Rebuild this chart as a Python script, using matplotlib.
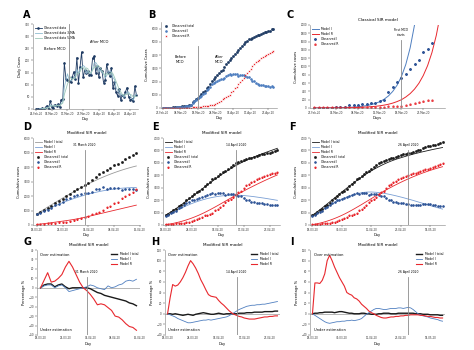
import numpy as np
import pandas as pd
import matplotlib
matplotlib.use('Agg')
import matplotlib.pyplot as plt

# Observed data (Malaysia), daily new cases 26 Feb - 30 Apr 2020
daily_cases = [0, 1, 2, 0,
               4, 0, 7, 14, 0, 33, 10, 6, 18, 12, 20, 9, 39, 41, 190, 125, 120, 117, 110, 130,
               153, 123, 212, 106, 172, 235, 130, 159, 150, 156, 140,
               142, 208, 217, 150, 179, 131, 170, 156, 109, 118, 184, 153, 134, 170, 85,
               110, 69, 54, 84, 36, 57, 50, 71, 88, 51, 38, 40, 31, 94, 57]

# Cumulative counts 27 Feb - 10 May 2020
obs_total = [23, 25, 25,
             29, 29, 36, 50, 50, 83, 93, 99, 117, 129, 149, 158, 197, 238, 428, 553, 673, 790, 900, 1030,
             1183, 1306, 1518, 1624, 1796, 2031, 2161, 2320, 2470, 2626, 2766,
             2908, 3116, 3333, 3483, 3662, 3793, 3963, 4119, 4228, 4346, 4530, 4683, 4817, 4987, 5072,
             5182, 5251, 5305, 5389, 5425, 5482, 5532, 5603, 5691, 5742, 5780, 5820, 5851, 5945, 6002,
             6071, 6176, 6298, 6353, 6383, 6428, 6467, 6535, 6589, 6656]
obs_rec = [18, 20, 22,
           22, 22, 22, 22, 22, 22, 24, 24, 24, 26, 26, 27, 27, 35, 42, 42, 49, 60, 75, 87,
           114, 139, 159, 183, 199, 215, 259, 320, 388, 479, 537,
           645, 767, 827, 915, 1005, 1241, 1321, 1487, 1608, 1830, 1995, 2108, 2276, 2478, 2647,
           2766, 2967, 3197, 3295, 3452, 3542, 3663, 3762, 3862, 3957, 4032, 4087, 4171, 4213, 4298,
           4326, 4413, 4484, 4534, 4590, 4702, 4776, 4864, 4929, 5025]
obs_death = [0] * 19 + [2, 2, 2, 3, 4, 10, 14, 16, 19, 23, 26, 27, 35, 37, 43,
                        45, 50, 53, 57, 61, 62, 63, 65, 67, 70, 73, 76, 77, 82, 83,
                        84, 86, 88, 88, 89, 92, 93, 95, 96, 98, 98, 99, 100, 100, 103,
                        103, 103, 105, 105, 106, 106, 107, 107, 108, 108]

# Classical SIR model (27 Feb onwards)
c_model_i = [1, 2, 2, 3, 4, 6, 8, 11, 16, 22, 30, 42, 58, 80, 110, 152, 210, 290, 400, 550,
             760, 1050, 1450, 2000, 2760]
c_model_r = [1, 1, 2, 2, 3, 3, 4, 5, 7, 9, 14, 18, 24, 31, 40, 53, 69, 90, 118, 155,
             200, 265, 347, 455, 595, 780, 1020, 1335, 1750, 2290]

# Modified SIR model, fit to 31 March (18 Mar - 14 Apr)
d_model_total = [760, 920, 1080, 1240, 1395, 1550, 1700, 1850, 2000, 2145, 2290, 2430, 2570, 2705,
                 2835, 2960, 3080, 3195, 3305, 3410, 3510, 3605, 3695, 3780, 3860, 3935, 4005, 4070]
d_model_i = [700, 830, 960, 1085, 1205, 1320, 1430, 1535, 1635, 1730, 1820, 1905, 1985, 2060,
             2130, 2195, 2255, 2310, 2360, 2405, 2445, 2480, 2510, 2535, 2555, 2570, 2580, 2585]
d_model_r = [40, 65, 95, 125, 160, 195, 230, 265, 300, 340, 380, 425, 475, 530,
             590, 650, 710, 770, 830, 890, 950, 1010, 1070, 1130, 1190, 1250, 1310, 1370]

# Modified SIR model, fit to 14 April (18 Mar - 30 Apr)
e_model_total = [790, 920, 1050, 1185, 1325, 1470, 1620, 1775, 1935, 2095, 2255, 2415, 2575, 2735,
                 2895, 3055, 3215, 3370, 3525, 3680, 3830, 3980, 4125, 4265, 4400, 4530, 4655, 4775,
                 4890, 5000, 5105, 5205, 5300, 5390, 5475, 5560, 5640, 5720, 5800, 5875, 5950, 6025,
                 6100, 6170]
e_model_i = [700, 810, 920, 1030, 1140, 1245, 1350, 1450, 1545, 1635, 1720, 1800, 1875, 1945,
             2010, 2070, 2125, 2175, 2220, 2260, 2295, 2325, 2350, 2370, 2385, 2395, 2400, 2400,
             2395, 2385, 2370, 2350, 2330, 2305, 2280, 2250, 2220, 2190, 2160, 2125, 2090, 2055,
             2020, 1985]
e_model_r = [30, 60, 95, 135, 180, 230, 285, 345, 410, 480, 555, 635, 720, 810,
             905, 1005, 1110, 1220, 1330, 1445, 1560, 1680, 1800, 1920, 2040, 2160, 2275, 2390,
             2505, 2620, 2730, 2840, 2950, 3055, 3160, 3265, 3365, 3465, 3565, 3660, 3755, 3850,
             3940, 4030]

# Modified SIR model, fit to 26 April (18 Mar - 10 May)
f_model_total = [790, 930, 1075, 1225, 1380, 1535, 1695, 1855, 2015, 2175, 2335, 2495, 2655, 2815,
                 2970, 3125, 3275, 3425, 3570, 3710, 3850, 3985, 4115, 4240, 4360, 4475, 4585, 4690,
                 4790, 4885, 4975, 5060, 5140, 5215, 5285, 5350, 5410, 5470, 5530, 5590, 5645, 5700,
                 5750, 5800, 5850, 5895, 5940, 5985, 6030, 6075, 6115, 6155, 6195, 6235]
f_model_i = [700, 830, 960, 1090, 1215, 1340, 1460, 1575, 1685, 1790, 1890, 1985, 2075, 2160,
             2240, 2315, 2385, 2450, 2505, 2555, 2595, 2625, 2645, 2655, 2655, 2645, 2630, 2610,
             2585, 2555, 2520, 2480, 2440, 2395, 2350, 2300, 2250, 2200, 2145, 2090, 2035, 1980,
             1920, 1860, 1800, 1740, 1680, 1620, 1560, 1500, 1445, 1390, 1335, 1280]
f_model_r = [30, 65, 105, 150, 200, 255, 315, 380, 450, 525, 605, 690, 780, 875,
             975, 1080, 1190, 1300, 1415, 1530, 1645, 1765, 1885, 2005, 2125, 2245, 2365, 2480,
             2595, 2710, 2820, 2930, 3035, 3140, 3240, 3340, 3435, 3530, 3620, 3710, 3795, 3880,
             3960, 4040, 4115, 4190, 4260, 4330, 4395, 4460, 4520, 4580, 4635, 4690]

# Percentage error (%) of the modified models
g_total = [0, 3, 4, 4, 1, 3, 4, 1, -1, 0, 0, 0, 0, 0, -1, -3, -5, -6, -8, -9, -10, -11, -12, -13,
           -14, -16, -17, -19]
g_i = [0, 2, 3, 3, 0, 2, 3, 0, -4, -3, -2, -1, 0, 1, 3, 2, 0, -1, -2, 2, 0, 1, 3, 4, 7, 8, 7, 9]
g_r = [0, 8, 16, 6, 7, 10, 14, 22, 28, 22, 14, 6, 0, -3, -7, -12, -18, -17, -18, -21, -24, -30,
       -31, -34, -38, -41, -42, -45]
h_total = [0, 0, -1, 0, -1, -2, -3, -2, -1, -2, -3, -1, 0, 1, 2, 1, 0, -1, -1, 0, 1, 0, -1, 0,
           0, 0, 0, 0, 1, 1, 1, 2, 2, 2, 3, 3, 3, 3, 4, 4, 4, 4, 5, 5]
h_i = [0, -2, -4, -6, -9, -11, -13, -15, -17, -17, -16, -15, -14, -13, -12, -12, -11, -12, -11,
       -10, -9, -8, -7, -6, -4, -1, 2, 5, 8, 10, 12, 14, 15, 16, 16, 17, 17, 18, 18, 19, 20, 21,
       22, 23]
h_r = [0, 30, 55, 52, 54, 60, 68, 78, 90, 100, 94, 86, 76, 64, 55, 45, 36, 33, 32, 31, 25, 20,
       16, 11, 6, 2, -1, -3, -5, -6, -8, -9, -10, -10, -10, -9, -8, -7, -6, -6, -5, -5, -4, -4]
i_total = [0, 1, 1, 2, 2, 3, 3, 3, 3, 2, 3, 4, 4, 3, 2, 1, 1, 0, 0, 0, 1, 1, 0, 0, -1, -1, -1,
           0, 0, 1, 1, 1, 0, 0, 0, 1, 1, 1, 1, 1, 1, 1, 0, 0, 0, -1, -1, -1, -2, -2, -2, -2, -3, -3]
i_i = [0, -3, -6, -9, -12, -15, -17, -18, -17, -16, -15, -15, -14, -14, -13, -13, -12, -13, -12,
       -11, -9, -5, -1, 2, 5, 8, 10, 10, 9, 8, 8, 9, 10, 10, 10, 11, 11, 10, 11, 12, 11, 8, 4, 0,
       -2, -4, -5, -6, -8, -9, -10, -11, -13, -14]
i_r = [0, 58, 58, 57, 63, 75, 100, 110, 100, 88, 78, 68, 60, 52, 40, 37, 35, 30, 28, 24, 18, 14,
       10, 5, 2, 0, -3, -5, -7, -8, -8, -7, -6, -6, -5, -5, -4, -4, -3, -3, -2, -2, -2, -2, -3,
       -3, -4, -5, -5, -6, -7, -7, -8, -8]

# Colours
navy = '#1f3b63'
blue = '#4f7fc0'
red = '#e8282e'
black = '#1a1a1a'
vcol = '#8c8c8c'

days_a = pd.date_range('2020-02-26', periods=len(daily_cases))
days = pd.date_range('2020-02-27', periods=len(obs_total))
total = np.array(obs_total)
rec = np.array(obs_rec)
active = total - rec - np.array(obs_death)

fig = plt.figure(figsize=(4.74, 3.5), dpi=100)


def box(l, r, t, b):
    return fig.add_axes([l / 474, 1 - b / 350, (r - l) / 474, (b - t) / 350])


def style(ax, xlabel, ylabel, ticks, fmt):
    for s in ['top', 'right']:
        ax.spines[s].set_visible(False)
    for s in ['left', 'bottom']:
        ax.spines[s].set_linewidth(0.4)
        ax.spines[s].set_color('#808080')
    ax.tick_params(labelsize=1.9, length=1.2, width=0.3, pad=1, colors='#333333')
    ax.set_xticks(ticks)
    ax.set_xticklabels([d.strftime(fmt) for d in ticks])
    ax.set_xlabel(xlabel, fontsize=2.6, labelpad=1)
    ax.set_ylabel(ylabel, fontsize=2.6, labelpad=2)


def legend(ax, loc='upper left'):
    ax.legend(loc=loc, fontsize=2.2, frameon=False, handlelength=2.2, labelspacing=0.35,
              borderaxespad=0.2, markerscale=1.0)


def vline(ax, date, label, top=0.9):
    ax.axvline(pd.Timestamp(date), ymax=top - 0.04, color=vcol, lw=0.6)
    ax.text(pd.Timestamp(date), ax.get_ylim()[0] + top * (ax.get_ylim()[1] - ax.get_ylim()[0]),
            label, fontsize=2.2, ha='center', va='bottom')


# A - daily cases
ax = box(33, 138, 24, 109)
s = pd.Series(daily_cases, index=days_a)
ax.plot(days_a, daily_cases, color=navy, lw=0.6, marker='o', ms=0.9, label='Observed data')
ax.plot(days_a, s.rolling(3).mean(), color='#8fbcd0', lw=0.6, label='Observed data 3-MA')
ax.plot(days_a, s.rolling(5).mean(), color='#9cc7b8', lw=0.6, label='Observed data 5-MA')
ax.set_ylim(0, 350)
ax.set_yticks(range(0, 351, 50))
ax.set_xlim(pd.Timestamp('2020-02-24'), pd.Timestamp('2020-05-01'))
ax.axvline(pd.Timestamp('2020-03-18'), color=vcol, lw=0.6)
ax.text(pd.Timestamp('2020-03-09'), 245, 'Before MCO', fontsize=2.6, ha='center')
ax.text(pd.Timestamp('2020-04-06'), 270, 'After MCO', fontsize=2.6, ha='center')
style(ax, 'Day', 'Daily Cases', pd.date_range('2020-02-26', '2020-04-30', freq='10D'), '%d-%b-%y')
legend(ax)

# B - cumulative observed
ax = box(161, 277, 22, 108)
sel = days <= '2020-04-30'
ax.plot(days[sel], total[sel], ls='none', marker='s', ms=0.9, color=navy, label='Observed total')
ax.plot(days[sel], active[sel], ls='none', marker='D', ms=0.8, color=blue, label='Observed I')
ax.plot(days[sel], rec[sel], ls='none', marker='x', ms=1.0, mew=0.4, color=red, label='Observed R')
ax.set_ylim(0, 6500)
ax.set_yticks(range(0, 6001, 1000))
ax.set_xlim(pd.Timestamp('2020-02-26'), pd.Timestamp('2020-05-02'))
ax.axvline(pd.Timestamp('2020-03-18'), color=vcol, lw=0.6, ymax=0.72)
ax.text(pd.Timestamp('2020-03-08'), 3400, 'Before\nMCO', fontsize=2.6, ha='center')
ax.text(pd.Timestamp('2020-03-30'), 3400, 'After\nMCO', fontsize=2.6, ha='center')
style(ax, 'Day', 'Cumulative Cases', pd.date_range('2020-02-27', '2020-04-30', freq='10D'), '%d-%b-%y')
legend(ax)

# C - classical SIR model
ax = box(310, 445, 25, 108)
ci = pd.date_range('2020-02-27', periods=len(c_model_i))
cr = pd.date_range('2020-02-27', periods=len(c_model_r))
sel = days <= '2020-03-25'
ax.plot(ci, c_model_i, color=blue, lw=0.7, label='Model I')
ax.plot(cr, c_model_r, color=red, lw=0.7, label='Model R')
ax.plot(days[sel], active[sel], ls='none', marker='D', ms=1.0, color='#2f5597', label='Observed I')
ax.plot(days[sel], rec[sel], ls='none', marker='^', ms=1.0, color=red, label='Observed R')
ax.set_ylim(0, 2000)
ax.set_yticks(range(0, 2001, 200))
ax.set_xlim(pd.Timestamp('2020-02-26'), pd.Timestamp('2020-03-28'))
vline(ax, '2020-03-18', 'First MCO\nstarts', top=0.86)
style(ax, 'Days', 'Cumulative cases', pd.date_range('2020-02-27', '2020-03-25', freq='5D'), '%d-%b-%y')
ax.set_title('Classical SIR model', fontsize=3.0, pad=3)
legend(ax)


def modified(ax, n, m_total, m_i, m_r, total_col, end, tick_step, vdate, vlabel, ymax):
    idx = slice(20, 20 + n)
    dd = days[idx]
    ax.plot(dd, m_total, color=total_col, lw=0.6, label='Model I total')
    ax.plot(dd, m_i, color='#7a9fd4', lw=0.6, label='Model I')
    ax.plot(dd, m_r, color=red, lw=0.6, label='Model R')
    ax.plot(dd, total[idx], ls='none', marker='s', ms=0.9, color=black, label='Observed I total')
    ax.plot(dd, active[idx], ls='none', marker='D', ms=0.8, color='#2f5597', label='Observed I')
    ax.plot(dd, rec[idx], ls='none', marker='^', ms=0.9, color=red, label='Observed R')
    ax.set_ylim(0, ymax)
    ax.set_yticks(range(0, ymax + 1, 1000))
    ax.set_xlim(pd.Timestamp('2020-03-17'), pd.Timestamp(end))
    vline(ax, vdate, vlabel)
    style(ax, 'Day', 'Cumulative cases',
          pd.date_range('2020-03-18', end, freq=tick_step), '%d-%m-%y')
    ax.set_title('Modified SIR model', fontsize=3.0, pad=3)
    legend(ax)


modified(box(33, 140, 138, 225), 28, d_model_total, d_model_i, d_model_r, '#9a9a9a',
         '2020-04-15', '7D', '2020-03-31', '31 March 2020', 6000)
modified(box(163, 280, 138, 225), 44, e_model_total, e_model_i, e_model_r, black,
         '2020-05-01', '10D', '2020-04-14', '14 April 2020', 7000)
modified(box(310, 445, 138, 225), 54, f_model_total, f_model_i, f_model_r, black,
         '2020-05-11', '12D', '2020-04-26', '26 April 2020', 7000)


def errors(ax, e_total, e_i, e_r, end, tick_step, vdate, vlabel, ylo, yhi, ystep):
    dd = pd.date_range('2020-03-18', periods=len(e_total))
    ax.axhline(0, color='#808080', lw=0.4)
    ax.plot(dd, e_total, color=black, lw=1.0, label='Model I total')
    ax.plot(dd, e_i, color=blue, lw=0.6, label='Model I')
    ax.plot(dd, e_r, color=red, lw=0.8, label='Model R')
    ax.set_ylim(ylo, yhi)
    ax.set_yticks(range(ylo, yhi + 1, ystep))
    ax.set_xlim(pd.Timestamp('2020-03-17'), pd.Timestamp(end))
    vline(ax, vdate, vlabel, top=0.72)
    style(ax, 'Day', 'Percentage %', pd.date_range('2020-03-18', end, freq=tick_step), '%d-%m-%y')
    ax.spines['bottom'].set_visible(False)
    ax.tick_params(axis='x', length=0)
    ax.text(0.03, 0.93, 'Over estimation', transform=ax.transAxes, fontsize=2.6)
    ax.text(0.03, 0.05, 'Under estimation', transform=ax.transAxes, fontsize=2.6)
    ax.set_title('Modified SIR model', fontsize=3.0, pad=3)
    legend(ax, 'upper right')


errors(box(37, 140, 250, 335), g_total, g_i, g_r, '2020-04-15', '7D', '2020-03-31', '31 March 2020',
       -50, 40, 10)
errors(box(165, 280, 250, 335), h_total, h_i, h_r, '2020-05-01', '10D', '2020-04-14', '14 April 2020',
       -40, 120, 20)
errors(box(310, 445, 250, 335), i_total, i_i, i_r, '2020-05-11', '12D', '2020-04-26', '26 April 2020',
       -40, 120, 20)

# panel letters
for letter, x, y in [('A', 27, 15), ('B', 152, 15), ('C', 290, 15),
                     ('D', 27, 127), ('E', 155, 127), ('F', 292, 127),
                     ('G', 27, 242), ('H', 155, 242), ('I', 292, 242)]:
    fig.text(x / 474, 1 - y / 350, letter, fontsize=7, fontweight='bold', ha='center', va='center')

fig.savefig('out.png', dpi=100)
